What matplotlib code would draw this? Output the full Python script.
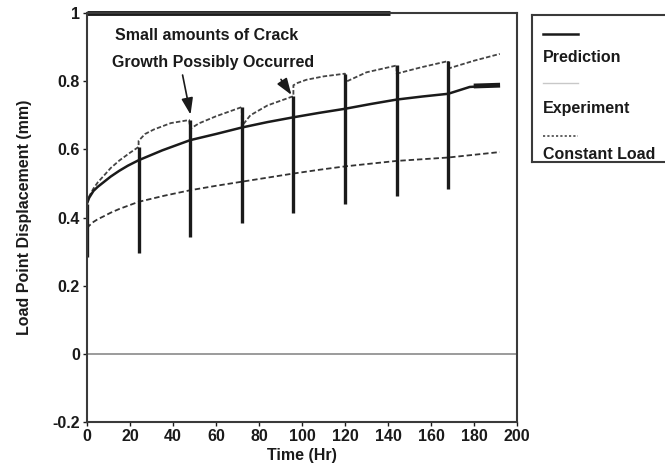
import matplotlib
import matplotlib.pyplot as plt
import numpy as np

matplotlib.use("Agg")

plt.rcParams["font.family"] = ["Liberation Sans", "DejaVu Sans"]
plt.rcParams["font.weight"] = "bold"

# creep test, load point displacement vs. time, unload/reload every 24 hr
exp_time = [0, 1, 3, 5, 7.6, 11, 15, 20, 24, 24, 27, 31, 39, 47.5, 48, 52, 60, 72, 72,
            76, 84, 96, 96, 98, 102, 110, 120, 120, 130, 144, 144, 155, 168, 168,
            180, 192]
exp_disp = [0.441, 0.462, 0.485, 0.503, 0.521, 0.545, 0.567, 0.590, 0.607, 0.625,
            0.645, 0.658, 0.677, 0.686, 0.660, 0.676, 0.697, 0.724, 0.668, 0.700,
            0.729, 0.756, 0.788, 0.795, 0.804, 0.814, 0.822, 0.797, 0.826, 0.846,
            0.822, 0.840, 0.859, 0.837, 0.860, 0.880]

pred_time = [0, 1, 3, 5, 7.6, 11, 15, 19, 24, 35, 48, 60, 72, 84, 96, 108, 120, 132,
             144, 156, 168, 178, 191]
pred_disp = [0.441, 0.458, 0.478, 0.490, 0.503, 0.520, 0.537, 0.552, 0.568, 0.597,
             0.627, 0.645, 0.664, 0.680, 0.694, 0.707, 0.719, 0.733, 0.746, 0.755,
             0.763, 0.783, 0.788]
pred_tail_time = [181, 191]
pred_tail_disp = [0.786, 0.788]

const_time = [0, 1, 3, 5, 7.6, 11, 15, 24, 36, 48, 60, 72, 84, 96, 108, 120, 132,
              144, 156, 168, 180, 192]
const_disp = [0.368, 0.376, 0.387, 0.395, 0.403, 0.414, 0.425, 0.446, 0.464, 0.480,
              0.493, 0.505, 0.517, 0.529, 0.540, 0.550, 0.558, 0.566, 0.571, 0.576,
              0.584, 0.592]

# unloading excursions
drop_time = [0, 24, 48, 72, 96, 120, 144, 168]
drop_top = [0.441, 0.607, 0.686, 0.724, 0.756, 0.822, 0.846, 0.859]
drop_bottom = [0.284, 0.296, 0.343, 0.384, 0.413, 0.439, 0.464, 0.485]

top_band = [0, 141]

x_ticks = list(range(0, 201, 20))
y_ticks = [-0.2, 0, 0.2, 0.4, 0.6, 0.8, 1]
y_tick_labels = ["-0.2", "0", "0.2", "0.4", "0.6", "0.8", "1"]

FS = 11.5
INK = "#1a1a1a"

fig = plt.figure(figsize=(6.65, 4.68), dpi=100)
ax = fig.add_axes([87 / 665, 1 - 422 / 468, 430 / 665, 409 / 468])

ax.axhline(0, color="#8a8a8a", lw=1.2)
ax.plot(const_time, const_disp, color="#333333", lw=1.3, dashes=(3, 1.6))
ax.plot(exp_time, exp_disp, color="#444444", lw=1.3, dashes=(2.5, 1.2))
ax.plot(pred_time, pred_disp, color=INK, lw=1.8)
ax.plot(pred_tail_time, pred_tail_disp, color=INK, lw=3.5)
ax.vlines(drop_time, drop_bottom, drop_top, colors=INK, lw=2.4)
ax.plot(top_band, [1, 1], color=INK, lw=3.5, clip_on=False, solid_capstyle="butt")

ax.annotate("", xy=(48.4, 0.694), xytext=(44.2, 0.826),
            arrowprops=dict(arrowstyle="-|>,head_length=1.0,head_width=0.35",
                            color=INK, lw=1.2))
ax.annotate("", xy=(95.8, 0.753), xytext=(89.5, 0.812),
            arrowprops=dict(arrowstyle="-|>,head_length=1.0,head_width=0.35",
                            color=INK, lw=1.2))
ax.text(13, 0.934, "Small amounts of Crack", fontsize=FS, fontweight="bold",
        va="center", ha="left", color=INK)
ax.text(11.6, 0.855, "Growth Possibly Occurred", fontsize=FS, fontweight="bold",
        va="center", ha="left", color=INK)

ax.set_xlim(0, 200)
ax.set_ylim(-0.2, 1)
ax.set_xticks(x_ticks)
ax.set_yticks(y_ticks)
ax.set_yticklabels(y_tick_labels)
ax.tick_params(labelsize=FS, length=3, width=1, colors=INK, pad=2)
for lbl in ax.get_xticklabels() + ax.get_yticklabels():
    lbl.set_fontweight("bold")
for sp in ax.spines.values():
    sp.set_color("#3a3a3a")
    sp.set_linewidth(1.5)
ax.set_xlabel("Time (Hr)", fontsize=FS, fontweight="bold", labelpad=3, color=INK)
ax.set_ylabel("Load Point Displacement (mm)", fontsize=FS, fontweight="bold",
              labelpad=15, color=INK)

# legend panel: sample line above each label
leg = fig.add_axes([532 / 665, 1 - 162 / 468, 166 / 665, 147 / 468])
leg.set_xlim(0, 1)
leg.set_ylim(0, 1)
leg.set_xticks([])
leg.set_yticks([])
for sp in leg.spines.values():
    sp.set_color("#3a3a3a")
    sp.set_linewidth(1.5)
leg.plot([0.066, 0.277], [0.871, 0.871], color=INK, lw=1.8)
leg.plot([0.066, 0.277], [0.537, 0.537], color="#c8c8c8", lw=1.0)
leg.plot([0.066, 0.277], [0.177, 0.177], color="#555555", lw=1.3, dashes=(1.2, 1.2))
leg.text(0.066, 0.714, "Prediction", fontsize=FS, fontweight="bold", va="center", color=INK)
leg.text(0.066, 0.367, "Experiment", fontsize=FS, fontweight="bold", va="center", color=INK)
leg.text(0.066, 0.050, "Constant Load", fontsize=FS, fontweight="bold", va="center", color=INK)

fig.savefig("out.png", dpi=100)
